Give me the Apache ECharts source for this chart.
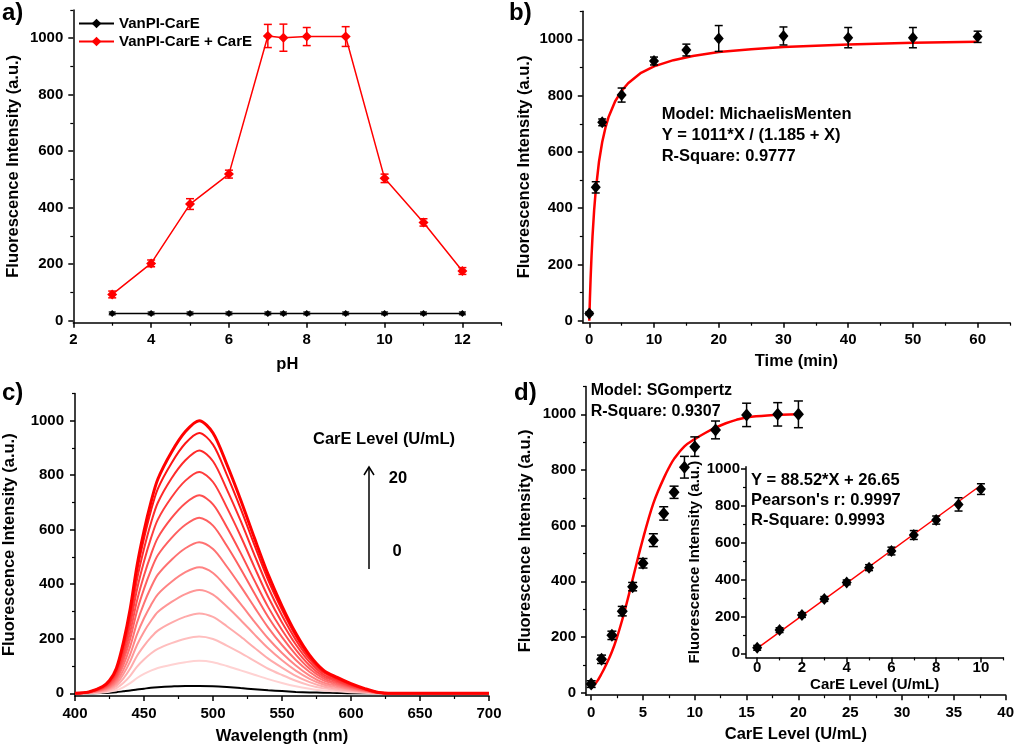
<!DOCTYPE html>
<html><head><meta charset="utf-8">
<script src="https://cdn.jsdelivr.net/npm/echarts/dist/echarts.min.js"></script>
<style>html,body{margin:0;padding:0;background:#fff}#c{width:1017px;height:747px}</style>
</head><body><div id="c"></div>
<script>
// ---------- DATA ----------
// (a) pH dependence
const phLevels = [3, 4, 5, 6, 7, 7.4, 8, 9, 10, 11, 12];
const phWithCarE = [93, 203, 413, 519, 1008, 1002, 1006, 1006, 504, 348, 176];
const phWithCarEErr = [12, 12, 19, 14, 41, 48, 32, 35, 15, 13, 12];
const phProbeOnly = [26, 26, 26, 26, 26, 26, 26, 26, 26, 26, 26];
const phProbeOnlyErr = [5, 5, 5, 5, 5, 5, 5, 5, 5, 5, 5];
// (b) time course
const timeMin = [0, 1, 2, 5, 10, 15, 20, 30, 40, 50, 60];
const timeMean = [26, 474, 705, 802, 923, 962, 1003, 1012, 1006, 1006, 1009];
const timeErr = [5, 20, 12, 25, 14, 21, 46, 32, 36, 36, 20];
const timeFitX = [0, 0.1, 0.2, 0.35, 0.5, 0.75, 1, 1.5, 2, 2.5, 3, 4, 5, 6, 8, 10, 13, 16, 20, 25, 30, 40, 50, 60];
const timeFitY = [0, 79, 146, 231, 300, 392, 463, 565, 635, 686, 725, 780, 817, 844, 881, 904, 926, 941, 955, 965, 973, 982, 988, 991];
// (c) emission spectra
const wavelengths = [400,410,420,425,430,435,440,445,450,455,460,470,480,490,500,510,520,530,540,550,560,570,580,590,600,610,620,630,700];
const em0  = [0,0,1,2,4,7,10,14,17,20,22,25,27,27,26,23,19,15,11,8,5,3,2,1,0,0,0,0,0];
const em1  = [0,1,3,6,11,22,37,56,71,83,93,105,114,119,114,100,84,68,52,38,26,17,10,7,4,2,0,0,0];
const em2  = [0,1,5,10,19,38,64,98,124,146,163,184,200,208,199,175,148,119,90,67,46,29,18,12,7,4,1,0,0];
const em3  = [0,1,7,14,27,54,91,138,174,205,230,259,281,293,280,246,208,167,127,94,64,41,25,17,10,5,1,0,0];
const em4  = [0,2,9,18,35,70,117,178,226,265,298,335,364,379,362,318,269,216,165,121,83,53,32,22,13,6,1,0,0];
const em5  = [0,2,12,22,43,85,143,217,275,323,363,409,444,462,441,388,328,263,201,148,102,65,39,27,16,8,1,0,0];
const em6  = [0,3,14,26,51,102,172,260,330,388,435,490,532,554,529,465,393,316,241,177,122,78,47,32,19,9,2,0,0];
const em7  = [0,3,16,30,59,119,200,303,383,451,506,570,618,644,615,541,457,367,280,206,142,90,55,37,23,11,2,0,0];
const em8  = [0,4,18,34,67,134,225,341,432,508,570,643,697,726,693,610,515,414,316,232,160,102,62,42,25,12,2,0,0];
const em9  = [0,4,20,38,75,150,252,382,483,568,637,719,780,812,775,682,577,463,353,260,179,114,69,47,28,14,2,0,0];
const em10 = [0,4,22,42,82,165,276,419,530,624,699,789,855,891,851,748,633,508,388,285,196,125,76,52,31,15,3,0,0];
const em12 = [0,5,24,45,88,177,296,449,568,669,750,845,917,955,912,802,678,544,415,306,210,134,81,55,33,16,3,0,0];
const em20 = [0,5,25,47,92,185,310,470,595,700,785,885,960,1000,955,840,710,570,435,320,220,140,85,58,35,17,3,0,0];
const emColors = ['#ffd2d2','#ffbebe','#ffaaaa','#ff9797','#ff8484','#ff7272','#ff6060','#ff4e4e','#ff3c3c','#ff2a2a','#ff1515','#ff0000'];
// (d) CarE concentration
const careLevel = [0, 1, 2, 3, 4, 5, 6, 7, 8, 9, 10, 12, 15, 18, 20];
const careMean = [31, 120, 206, 293, 381, 465, 548, 644, 720, 810, 884, 944, 998, 1000, 1000];
const careErr = [12, 15, 15, 17, 15, 17, 23, 24, 22, 39, 35, 32, 42, 42, 48];
const careFitX = [0, 0.5, 1, 1.5, 2, 2.5, 3, 3.5, 4, 4.5, 5, 5.5, 6, 6.5, 7, 7.5, 8, 9, 10, 11, 12, 13, 14, 15, 17, 20];
const careFitY = [16, 37, 68, 105, 147, 200, 262, 332, 407, 482, 553, 620, 680, 728, 770, 808, 840, 885, 911, 933, 952, 968, 980, 989, 996, 1000];
// (d) inset linear range
const insetLevel = [0, 1, 2, 3, 4, 5, 6, 7, 8, 9, 10];
const insetMean = [30, 126, 208, 295, 385, 465, 555, 642, 723, 808, 891];
const insetErr = [13, 13, 13, 13, 13, 16, 21, 24, 22, 36, 29];
const insetFitX = [0, 10];
const insetFitY = [27, 912];
// tick values
const yMajor = [0, 200, 400, 600, 800, 1000];
const yMinor = [100, 300, 500, 700, 900, 1100];
const aXMajor = [2, 4, 6, 8, 10, 12], aXMinor = [3, 5, 7, 9, 11, 13];
const bXMajor = [0, 10, 20, 30, 40, 50, 60], bXMinor = [5, 15, 25, 35, 45, 55, 65];
const cXMajor = [400, 450, 500, 550, 600, 650, 700], cXMinor = [425, 475, 525, 575, 625, 675];
const dXMajor = [0, 5, 10, 15, 20, 25, 30, 35, 40], dXMinor = [2.5, 7.5, 12.5, 17.5, 22.5, 27.5, 32.5, 37.5];
const iXMajor = [0, 2, 4, 6, 8, 10], iXMinor = [1, 3, 5, 7, 9, 11];
const iYMinor = [100, 300, 500, 700, 900];

// ---------- HELPERS ----------
const FONT = '"Liberation Sans", Arial, sans-serif';
const BLK = '#000';
const RED = '#ff0000';
function txt(size) { return { fontFamily: FONT, fontWeight: 'bold', fontSize: size, color: BLK }; }

const xAxes = [], yAxes = [];
function addAxis(list, dim, gi, min, max, majors, minors, name, nameGap, labelMargin, labelSize, nameSize) {
  const pos = dim === 'x' ? 'bottom' : 'left';
  const idx = list.length;
  list.push({
    type: 'value', gridIndex: gi, min: min, max: max, position: pos,
    axisLine: { show: true, onZero: false, lineStyle: { color: BLK, width: 1.5 } },
    axisTick: { show: true, inside: false, length: 5, customValues: majors, lineStyle: { color: BLK, width: 1.5 } },
    axisLabel: Object.assign({ customValues: majors, margin: labelMargin, formatter: function (v) { return String(v); } }, txt(labelSize)),
    splitLine: { show: false },
    name: name, nameLocation: 'middle', nameGap: nameGap, nameTextStyle: txt(nameSize)
  });
  list.push({
    type: 'value', gridIndex: gi, min: min, max: max, position: pos,
    axisLine: { show: false, onZero: false },
    axisTick: { show: true, inside: false, length: 3, customValues: minors, lineStyle: { color: BLK, width: 1.2 } },
    axisLabel: { show: false }, splitLine: { show: false }
  });
  return idx;
}
function zip2(xs, ys) { return xs.map((x, i) => [x, ys[i]]); }
function zip3(xs, ys, es) { return xs.map((x, i) => [x, ys[i], es[i]]); }
function errBars(capHalf, color, width) {
  return function (params, api) {
    const x = api.value(0), y = api.value(1), e = api.value(2);
    const hi = api.coord([x, y + e]), lo = api.coord([x, y - e]);
    const st = { stroke: color, lineWidth: width };
    return { type: 'group', children: [
      { type: 'line', shape: { x1: hi[0], y1: hi[1], x2: lo[0], y2: lo[1] }, style: st },
      { type: 'line', shape: { x1: hi[0] - capHalf, y1: hi[1], x2: hi[0] + capHalf, y2: hi[1] }, style: st },
      { type: 'line', shape: { x1: lo[0] - capHalf, y1: lo[1], x2: lo[0] + capHalf, y2: lo[1] }, style: st }
    ] };
  };
}

// ---------- GRIDS ----------
const grids = [
  { left: 73.3, top: 10, width: 428, height: 312.7 },     // a
  { left: 582.8, top: 11.2, width: 427.2, height: 311.5 }, // b
  { left: 75, top: 393.4, width: 414, height: 302.6 },     // c
  { left: 586, top: 386.5, width: 420.8, height: 308.7 },  // d
  { left: 746, top: 466.8, width: 257.3, height: 190.6 }   // inset
];
const Y_TITLE = 'Fluorescence Intensity (a.u.)';
const ax = addAxis(xAxes, 'x', 0, 2, 13, aXMajor, aXMinor, 'pH', 33, 10, 15, 16.5);
const ay = addAxis(yAxes, 'y', 0, -7, 1100, yMajor, yMinor, Y_TITLE, 51, 10, 15, 16.5);
const bx = addAxis(xAxes, 'x', 1, -1, 65, bXMajor, bXMinor, 'Time (min)', 30, 10, 15, 16.5);
const by = addAxis(yAxes, 'y', 1, -7, 1100, yMajor, yMinor, Y_TITLE, 50, 10, 15, 16.5);
const cx = addAxis(xAxes, 'x', 2, 400, 700, cXMajor, cXMinor, 'Wavelength (nm)', 32, 10, 15, 16.5);
const cy = addAxis(yAxes, 'y', 2, -10, 1100, yMajor, yMinor, Y_TITLE, 57, 11, 15, 16.5);
const dx = addAxis(xAxes, 'x', 3, -0.5, 40, dXMajor, dXMinor, 'CarE Level (U/mL)', 31, 10, 15, 16.5);
const dy = addAxis(yAxes, 'y', 3, -9, 1100, yMajor, yMinor, Y_TITLE, 52, 10, 15, 16.5);
const ix = addAxis(xAxes, 'x', 4, -0.5, 11, iXMajor, iXMinor, 'CarE Level (U/mL)', 20, 3, 15, 15);
const iy = addAxis(yAxes, 'y', 4, -22, 1012, yMajor, iYMinor, Y_TITLE, 42, 6, 15, 15);

// ---------- SERIES ----------
const series = [];
// (a)
series.push({ name: 'VanPI-CarE', type: 'line', xAxisIndex: ax, yAxisIndex: ay, data: zip2(phLevels, phProbeOnly),
  symbol: 'diamond', symbolSize: 7, color: BLK, lineStyle: { color: BLK, width: 1.5 }, itemStyle: { color: BLK } });
series.push({ type: 'custom', xAxisIndex: ax, yAxisIndex: ay, data: zip3(phLevels, phProbeOnly, phProbeOnlyErr),
  renderItem: errBars(3.5, BLK, 1.2), encode: { x: 0, y: 1 } });
series.push({ name: 'VanPI-CarE + CarE', type: 'line', xAxisIndex: ax, yAxisIndex: ay, data: zip2(phLevels, phWithCarE),
  symbol: 'diamond', symbolSize: 10, color: RED, lineStyle: { color: RED, width: 1.5 }, itemStyle: { color: RED } });
series.push({ type: 'custom', xAxisIndex: ax, yAxisIndex: ay, data: zip3(phLevels, phWithCarE, phWithCarEErr),
  renderItem: errBars(4, RED, 1.5), encode: { x: 0, y: 1 } });
// (b)
series.push({ type: 'line', xAxisIndex: bx, yAxisIndex: by, data: zip2(timeFitX, timeFitY), showSymbol: false, symbol: 'none',
  lineStyle: { color: RED, width: 2.5 }, z: 3 });
series.push({ type: 'custom', xAxisIndex: bx, yAxisIndex: by, data: zip3(timeMin, timeMean, timeErr),
  renderItem: errBars(4, BLK, 1.5), encode: { x: 0, y: 1 }, z: 4 });
series.push({ type: 'scatter', xAxisIndex: bx, yAxisIndex: by, data: zip2(timeMin, timeMean), symbol: 'diamond', symbolSize: [10, 12],
  itemStyle: { color: BLK, opacity: 1 }, z: 5 });
// (c)
series.push({ type: 'line', xAxisIndex: cx, yAxisIndex: cy, data: zip2(wavelengths, em0), showSymbol: false, symbol: 'none', smooth: 0.3,
  lineStyle: { color: BLK, width: 2 }, z: 2 });
const emSets = [em1, em2, em3, em4, em5, em6, em7, em8, em9, em10, em12, em20];
emSets.forEach((arr, i) => {
  series.push({ type: 'line', xAxisIndex: cx, yAxisIndex: cy, data: zip2(wavelengths, arr), showSymbol: false, symbol: 'none', smooth: 0.3,
    lineStyle: { color: emColors[i], width: i === emSets.length - 1 ? 3 : 2 }, z: 2 });
});
// (d)
series.push({ type: 'line', xAxisIndex: dx, yAxisIndex: dy, data: zip2(careFitX, careFitY), showSymbol: false, symbol: 'none', smooth: 0.4,
  lineStyle: { color: RED, width: 2.5 }, z: 3 });
series.push({ type: 'custom', xAxisIndex: dx, yAxisIndex: dy, data: zip3(careLevel, careMean, careErr),
  renderItem: errBars(4.5, BLK, 1.5), encode: { x: 0, y: 1 }, z: 4 });
series.push({ type: 'scatter', xAxisIndex: dx, yAxisIndex: dy, data: zip2(careLevel, careMean), symbol: 'diamond', symbolSize: [11, 13],
  itemStyle: { color: BLK, opacity: 1 }, z: 5 });
// inset
series.push({ type: 'line', xAxisIndex: ix, yAxisIndex: iy, data: zip2(insetFitX, insetFitY), showSymbol: false, symbol: 'none',
  lineStyle: { color: RED, width: 1.5 }, z: 3 });
series.push({ type: 'custom', xAxisIndex: ix, yAxisIndex: iy, data: zip3(insetLevel, insetMean, insetErr),
  renderItem: errBars(4, BLK, 1.5), encode: { x: 0, y: 1 }, z: 4 });
series.push({ type: 'scatter', xAxisIndex: ix, yAxisIndex: iy, data: zip2(insetLevel, insetMean), symbol: 'diamond', symbolSize: [10, 12],
  itemStyle: { color: BLK, opacity: 1 }, z: 5 });

// ---------- TEXT ANNOTATIONS ----------
function label(text, x, y, size, align) {
  return { type: 'text', x: x, y: y, z: 100, style: { text: text, fill: BLK, font: 'bold ' + size + 'px ' + FONT,
    textAlign: align || 'left', textVerticalAlign: 'middle' } };
}
const graphic = [
  label('a)', 2, 13, 24), label('b)', 509, 13, 24), label('c)', 2, 393, 24), label('d)', 514, 393, 24),
  label('Model: MichaelisMenten', 661.7, 114, 16.5),
  label('Y = 1011*X / (1.185 + X)', 661.7, 135.5, 16.5),
  label('R-Square: 0.9777', 661.7, 156, 16.5),
  label('CarE Level (U/mL)', 313, 439.3, 16.5),
  label('20', 398, 478.7, 16.5, 'center'),
  label('0', 397, 551, 16.5, 'center'),
  { type: 'line', z: 100, shape: { x1: 369, y1: 569, x2: 369, y2: 467 }, style: { stroke: BLK, lineWidth: 1.5 } },
  { type: 'polyline', z: 100, shape: { points: [[364, 475], [369, 467], [374, 475]] }, style: { stroke: BLK, lineWidth: 1.5, fill: null } },
  label('Model: SGompertz', 590.7, 391, 16),
  label('R-Square: 0.9307', 590.7, 411.7, 16),
  label('Y = 88.52*X + 26.65', 751, 480, 16.5),
  label("Pearson's r: 0.9997", 751, 500.5, 16.5),
  label('R-Square: 0.9993', 751, 520.5, 16.5)
];

const chart = echarts.init(document.getElementById('c'), null, { renderer: 'canvas' });
chart.setOption({
  backgroundColor: '#fff',
  animation: false,
  grid: grids,
  xAxis: xAxes,
  yAxis: yAxes,
  legend: { left: 78, top: 16, orient: 'vertical', padding: 0, itemWidth: 35, itemHeight: 12, itemGap: 3,
    textStyle: txt(15), data: ['VanPI-CarE', 'VanPI-CarE + CarE'] },
  series: series,
  graphic: graphic
});
</script></body></html>
